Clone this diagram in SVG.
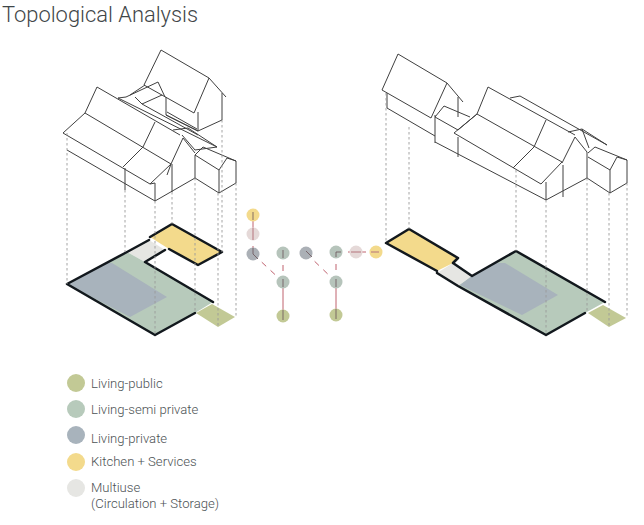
<svg xmlns="http://www.w3.org/2000/svg" width="644" height="525" viewBox="0 0 644 525">
<style>
text{font-family:Roboto,"Liberation Sans",sans-serif;font-weight:300;fill:#4c5254}
.t{font-size:21.9px;fill:#3f4648}
.l{font-size:13.1px}
.h{fill:none;stroke:#404040;stroke-width:1;stroke-linejoin:round}
.d{fill:none;stroke:#9a9a9a;stroke-width:.9;stroke-dasharray:2.5 2.5}
.b{fill:none;stroke:#12181d;stroke-width:2.5;stroke-linejoin:round;stroke-linecap:round}
.g{fill:none;stroke:#c0626f;stroke-width:1}
.gd{stroke-dasharray:6 6}
.i{fill:none;stroke:#6a5358;stroke-width:1;opacity:.8}
.j{fill:none;stroke:#b5747c;stroke-width:1}
.pub{fill:#c2c995}.semi{fill:#b7cabb}.pri{fill:#a8b3bc}.kit{fill:#f3da8c}.mul{fill:#e6e6e3}.pk{fill:#e5d9d8}
.gsemi{fill:#b6c4bb}.gpri{fill:#abb0b6}
</style>
<text class="t" x="2" y="22">Topological Analysis</text>
<g id="house-left">
<path class="h" d="M161 50L209 78L226 97M161 50L144 85L194 113L209 78M222 93V120L198 131V112M198 131L166 115V97M118 98L126 97L158 82L165 97M145 85L130 95M135 97L142 104L162 95M166 115L198 131M167 112L197 129"/>
<path class="h" d="M118 98L217 147M142 104L198 135M173 130L188 128L217 147M182 135L195 150L217 147"/>
<path class="h" d="M97 87L180 135M97 87L85 113L63 133L150 184L171 164L85 113M143 147L123 167M155 122L143 147M183 138L171 164L167 175M67 150L155 201V183L150 184M155 201L195 178V155M125 168V190M172 164V192M183 138L195 153"/>
<path class="h" d="M195 155L203 147L236 161M195 155L219 170L227 158L236 161V183L219 193V170M195 178L219 193"/>
</g>
<g id="plan-left">
<path class="kit" d="M150 237L172 224L222 252L198 265L169 249Z"/>
<path class="mul" d="M149 240L127 252L145 262L165 250Z"/>
<path class="semi" d="M127 252L67 284L155 335L195 313L213 302L145 262Z"/>
<path class="pri" d="M112 263L167 297L130 317L67 284L105 263Z"/>
<path class="pub" d="M212 304L235 317L218 327L196 313Z"/>
<path class="b" d="M150 237L172 224L222 252L198 265L169 249M165 250L145 262L213 302M195 313L155 335L67 284L127 252L149 240"/>
</g>
<g id="connectors">
<path class="g" d="M253 215V234"/>
<path class="g gd" d="M253 234V254"/>
<path class="g gd" d="M253 254L283 282M283 253V282M306 253L336 282M336 252V282M336 252H376"/>
<path class="g" d="M283 282V316M336 282V315"/>
</g>
<g id="graph-nodes">
<circle class="kit" cx="253" cy="215" r="6.5"/>
<circle class="pk" cx="253" cy="234" r="6.5"/>
<circle class="gpri" cx="253" cy="254" r="6.5"/>
<circle class="gsemi" cx="283" cy="253" r="6.5"/>
<circle class="gpri" cx="306" cy="253" r="6.5"/>
<circle class="gsemi" cx="336" cy="252" r="6.5"/>
<circle class="pk" cx="356" cy="252" r="6.5"/>
<circle class="kit" cx="376" cy="252" r="6.5"/>
<circle class="gsemi" cx="283" cy="282" r="6.5"/>
<circle class="gsemi" cx="336" cy="282" r="6.5"/>
<circle class="pub" cx="283" cy="316" r="6.5"/>
<circle class="pub" cx="336" cy="315" r="6.5"/>
</g>
<g id="connectors-over">
<path class="i" d="M253 212V220M253 248V254L258 259M283 250V258M283 279V287M283 310V320M306 251L312 257M336 257V252H341M336 279V287M336 309V319"/>
<path class="j" d="M253 228V240M351 252H361M371 252H379"/>
</g>
<g id="house-right">
<path class="h" d="M398 54L447 83L463 102M398 54L382 90L431 118L447 83M458 97V117M387 93V108L435 136M435 115V143M435 117L444 106L470 117M435 117L458 130L477 114M454 133L477 114L488 87L575 135M477 114L562 162L541 184L454 133M546 120L534 147L513 168M575 137L562 163M458 137V157M435 142L546 200V182M546 200L587 178V152M563 165V197M575 137L587 152M510 98L520 96L607 145M568 132L582 129L607 145M582 129L589 148"/>
<path class="h" d="M588 153L595 147L627 160M588 157L610 170L617 157L627 160V183L610 193V170M587 178L610 193"/>
</g>
<g id="plan-right">
<path class="kit" d="M453 263L458 258L409 229L386 243L437 271Z"/>
<path class="mul" d="M437 273L453 263L472 276L458 286Z"/>
<path class="semi" d="M472 276L516 251L605 302L585 313L546 335L458 286Z"/>
<path class="pri" d="M505 263L558 295L522 315L460 285L472 276L495 263Z"/>
<path class="pub" d="M603 305L626 318L609 327L588 313Z"/>
<path class="b" d="M453 263L458 258L409 229L386 243L437 271M437 273L458 286L546 335L585 313M453 263L472 276L516 251L605 302"/>
</g>
<g id="projection-lines">
<path class="d" d="M67 133V284M125 190V252M155 201V335M172 192V224M195 178V313M218 193V327M222 120V252M236 183V317"/>
<path class="d" d="M386 93V243M409 127V229M516 170V251M546 200V335M587 178V313M609 193V327M627 183V318"/>
</g>
<g id="legend">
<circle class="pub" cx="76" cy="383" r="9"/>
<circle class="semi" cx="76" cy="409" r="9"/>
<circle class="pri" cx="76" cy="435" r="9"/>
<circle class="kit" cx="76" cy="462" r="9"/>
<circle class="mul" cx="76" cy="488" r="9"/>
<text class="l" x="91" y="387.5">Living-public</text>
<text class="l" x="91" y="413.5">Living-semi private</text>
<text class="l" x="91" y="442.5">Living-private</text>
<text class="l" x="91" y="465.5">Kitchen + Services</text>
<text class="l" x="91" y="491.5">Multiuse</text>
<text class="l" x="91" y="508">(Circulation + Storage)</text>
</g>
</svg>
